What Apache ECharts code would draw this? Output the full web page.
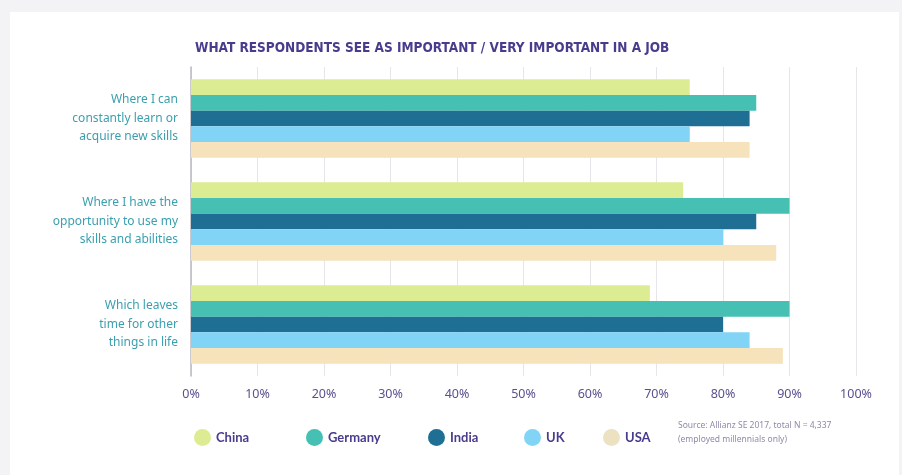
<!DOCTYPE html>
<html>
<head>
<meta charset="utf-8">
<script src="https://cdn.jsdelivr.net/npm/echarts@6/dist/echarts.min.js"></script>
<style>
  html, body { margin: 0; padding: 0; background: #f3f3f6; }
  #chart { width: 902px; height: 475px; }
</style>
</head>
<body>
<div id="chart"></div>
<script>
// Job aspects rated important / very important, by country (% of respondents)
const categories = [
  'Where I can\nconstantly learn or\nacquire new skills',
  'Where I have the\nopportunity to use my\nskills and abilities',
  'Which leaves\ntime for other\nthings in life'
];
const countries = ['China', 'Germany', 'India', 'UK', 'USA'];
const china   = [75, 74, 69];
const germany = [85, 90, 90];
const india   = [84, 85, 80];
const uk      = [75, 80, 84];
const usa     = [84, 88, 89];
const xTicks = [0, 10, 20, 30, 40, 50, 60, 70, 80, 90, 100];

const seriesValues = [china, germany, india, uk, usa];
const colors = ['#dcec93', '#45c0b2', '#1f6f95', '#82d4f6', '#f6e2bb'];
const legendIconColors = ['#dcec93', '#45c0b2', '#1f6f95', '#82d4f6', '#ece2c2'];
const legendLeft = [189, 301, 423, 519, 598];

const chart = echarts.init(document.getElementById('chart'));

const purple = '#4a3b8c';

chart.setOption({
  backgroundColor: '#f3f3f6',
  animation: false,
  graphic: [
    { type: 'rect', z: -10, shape: { x: 10, y: 12, width: 889, height: 470 }, style: { fill: '#ffffff' } },
    { type: 'text', left: 678, top: 419, style: { text: 'Source: Allianz SE 2017, total N = 4,337\n(employed millennials only)', fill: '#8f8aa8', font: '8.5px "Noto Sans"', lineHeight: 14 } }
  ],
  title: {
    text: 'WHAT RESPONDENTS SEE AS IMPORTANT / VERY IMPORTANT IN A JOB',
    left: 190,
    top: 36,
    textStyle: { color: purple, fontSize: 13.5, fontWeight: 'bold', fontFamily: '"Liberation Sans Narrow", "DejaVu Sans Condensed", sans-serif' }
  },
  legend: countries.map((name, i) => ({
    data: [{ name: name, itemStyle: { color: legendIconColors[i] } }],
    left: legendLeft[i],
    top: 424,
    icon: 'circle',
    itemWidth: 17,
    itemHeight: 17,
    textStyle: { color: purple, fontSize: 13, fontWeight: 'bold', fontFamily: 'Lato, "Noto Sans", sans-serif' }
  })),
  grid: { left: 191, right: 46, top: 67, bottom: 99, containLabel: false },
  xAxis: {
    type: 'value',
    min: 0,
    max: 100,
    interval: 10,
    axisLine: { show: false },
    axisTick: { show: false },
    splitLine: { show: true, lineStyle: { color: '#e6e6ea', width: 1 } },
    axisLabel: {
      margin: 12,
      color: '#5b4f8e',
      fontSize: 12.5,
      fontFamily: '"Noto Sans", sans-serif',
      formatter: v => xTicks.includes(v) ? v + '%' : ''
    }
  },
  yAxis: {
    type: 'category',
    data: categories,
    inverse: true,
    axisLine: { show: true, lineStyle: { color: '#b9b9c0', width: 1.5 } },
    axisTick: { show: false },
    axisLabel: {
      margin: 13,
      color: '#3a9fae',
      fontSize: 12,
      lineHeight: 18.5,
      fontFamily: '"Noto Sans", sans-serif',
      align: 'right'
    }
  },
  series: countries.map((name, i) => ({
    name: name,
    type: 'bar',
    data: seriesValues[i],
    barGap: '0%',
    barCategoryGap: '24%',
    itemStyle: { color: colors[i] }
  }))
});
</script>
</body>
</html>
